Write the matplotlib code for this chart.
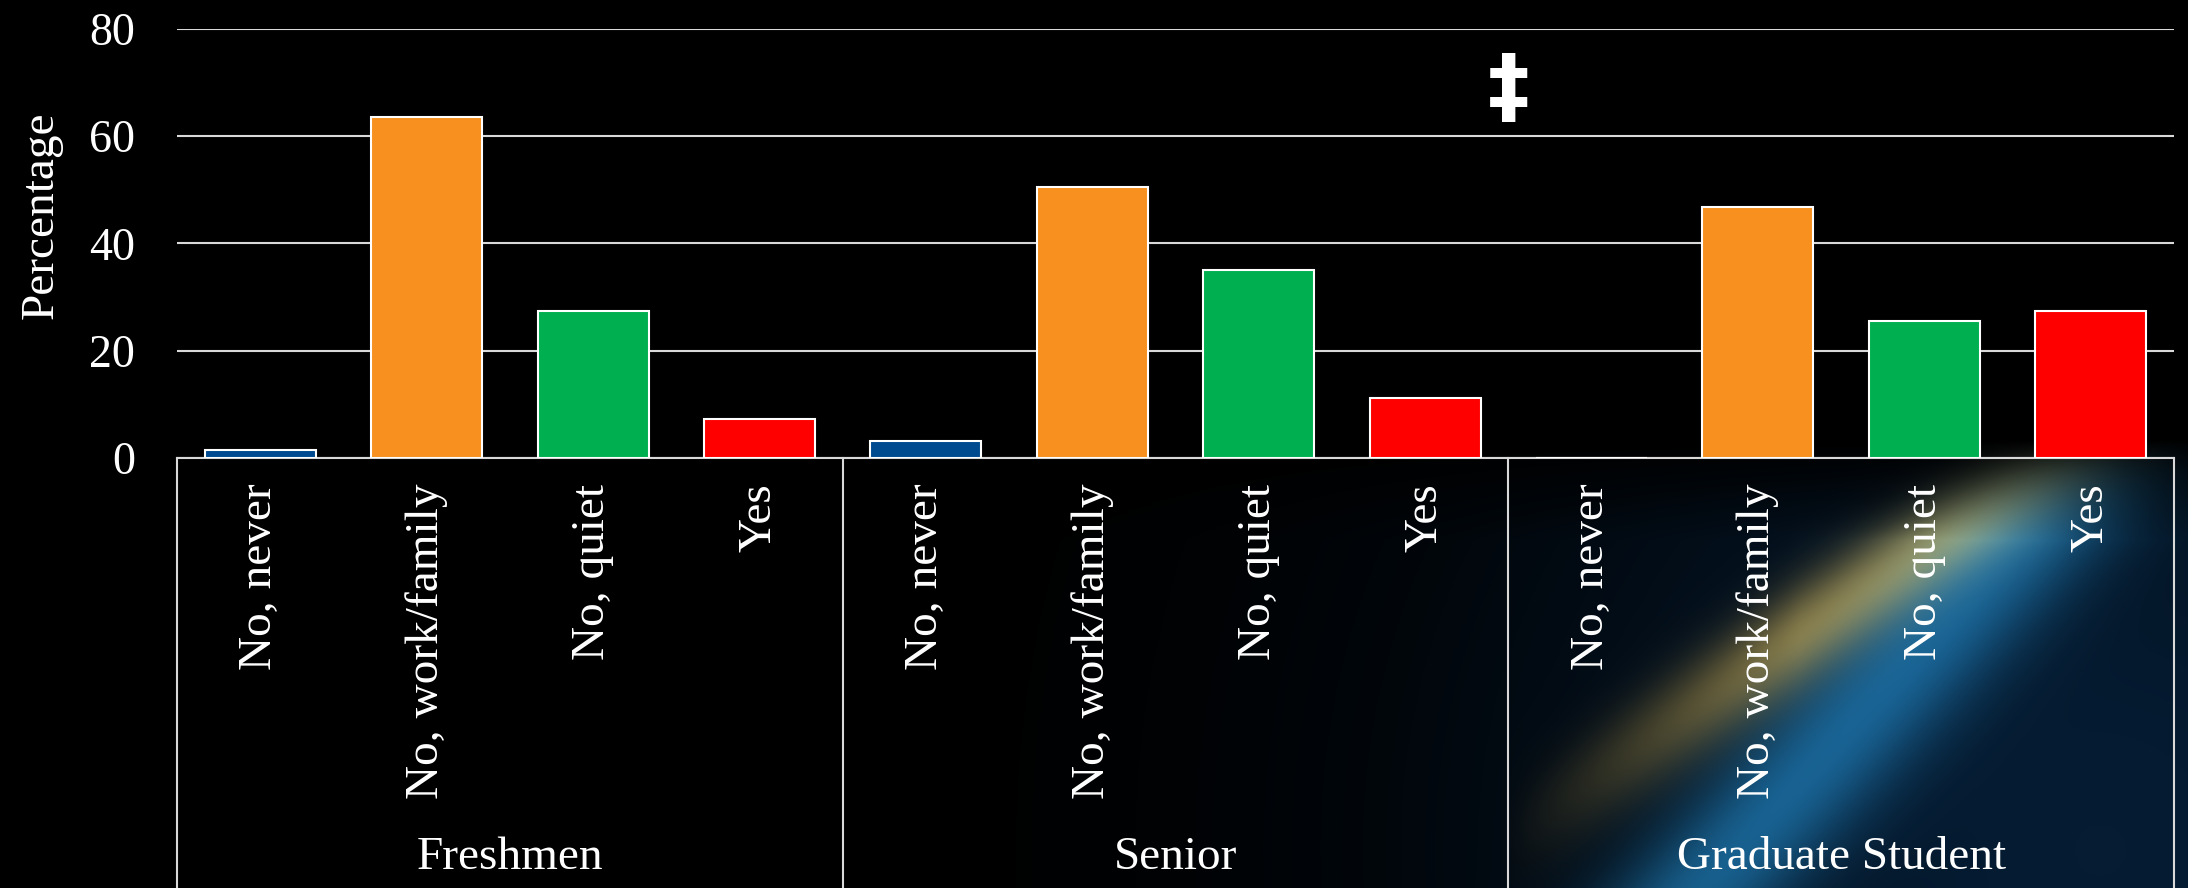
import matplotlib.pyplot as plt
import numpy as np

# Datos del gráfico
groups = ['Freshmen', 'Senior', 'Graduate Student']
answers = ['No, never', 'No, work/family', 'No, quiet', 'Yes']
freshmen = [1.5, 63.6, 27.5, 7.3]
senior = [3.2, 50.6, 35.1, 11.2]
graduate = [0.0, 46.8, 25.5, 27.5]
colors = ['#004A8F', '#F7901E', '#00AF50', '#FF0000']

plt.rcParams['font.family'] = ['Liberation Serif', 'DejaVu Serif']

W, H = 2188, 888
fig = plt.figure(figsize=(W / 100, H / 100), dpi=100, facecolor='black')

# fundo decorativo (faixas de luz no canto inferior direito)
yy, xx = np.mgrid[0:H, 0:W].astype(float)

def band(p1, p2, sigma):
    (x1, y1), (x2, y2) = p1, p2
    d = np.abs((x2 - x1) * (y1 - yy) - (x1 - xx) * (y2 - y1)) / np.hypot(x2 - x1, y2 - y1)
    return np.exp(-d ** 2 / (2 * sigma ** 2))

fade = np.clip((yy - 440) / 100, 0, 1)
blue = band((1690, 900), (2110, 440), 48) * fade
orange = band((1560, 800), (2080, 440), 30) * fade * np.clip((xx - 1500) / 300, 0, 1)
haze = np.exp(-((xx - 2100) ** 2 + (yy - 850) ** 2) / (2 * 420 ** 2)) * fade
img = np.zeros((H, W, 3))
img += haze[..., None] * np.array([0.02, 0.11, 0.20])
img += blue[..., None] * np.array([0.08, 0.30, 0.42])
img += orange[..., None] * np.array([0.50, 0.38, 0.12])
img = np.clip(img, 0, 1)

bg = fig.add_axes([0, 0, 1, 1], zorder=0)
bg.imshow(img, aspect='auto', interpolation='bilinear')
bg.axis('off')

ax = fig.add_axes([177 / W, 1 - 458 / H, (2174 - 177) / W, (458 - 29) / H], zorder=1)
ax.set_facecolor('none')

values = [freshmen, senior, graduate]
n = len(answers)
for g, vals in enumerate(values):
    x = g * n + np.arange(n) + 0.5
    ax.bar(x, vals, width=0.667, color=colors, edgecolor='white', linewidth=1.5, zorder=3)
    # etiquetas de categoria
    for xi, lab in zip(x, answers):
        ax.text(xi, -0.06, lab, transform=ax.get_xaxis_transform(), rotation=90,
                ha='center', va='top', color='white', fontsize=34)
    ax.text(g * n + n / 2, -0.932, groups[g], transform=ax.get_xaxis_transform(),
            ha='center', va='center', color='white', fontsize=34)

# linhas divisórias dos grupos
for k in range(len(groups) + 1):
    ax.plot([k * n, k * n], [0, -1.0], transform=ax.get_xaxis_transform(),
            color='#d9d9d9', linewidth=1.5, clip_on=False)

ax.set_xlim(0, n * len(groups))
ax.set_ylim(0, 80)
ax.set_yticks([0, 20, 40, 60, 80])
ax.set_xticks([])
ax.tick_params(axis='y', length=0, pad=30, labelsize=33, labelcolor='white')
ax.yaxis.grid(True, color='#d9d9d9', linewidth=1.5, zorder=0)
ax.set_axisbelow(True)
for side in ['top', 'right', 'left']:
    ax.spines[side].set_visible(False)
ax.spines['bottom'].set_color('#d9d9d9')
ax.spines['bottom'].set_linewidth(1.5)

fig.text(41 / W, 1 - 215 / H, 'Percentage', rotation=90, ha='center', va='center',
         color='white', fontsize=34)

# marca de significância
ax.text(8.0, 68.5, '\u2021', ha='center', va='center', color='white',
        fontsize=60, fontweight='bold', family='DejaVu Sans')

fig.savefig('out.png', dpi=100, facecolor='black')
